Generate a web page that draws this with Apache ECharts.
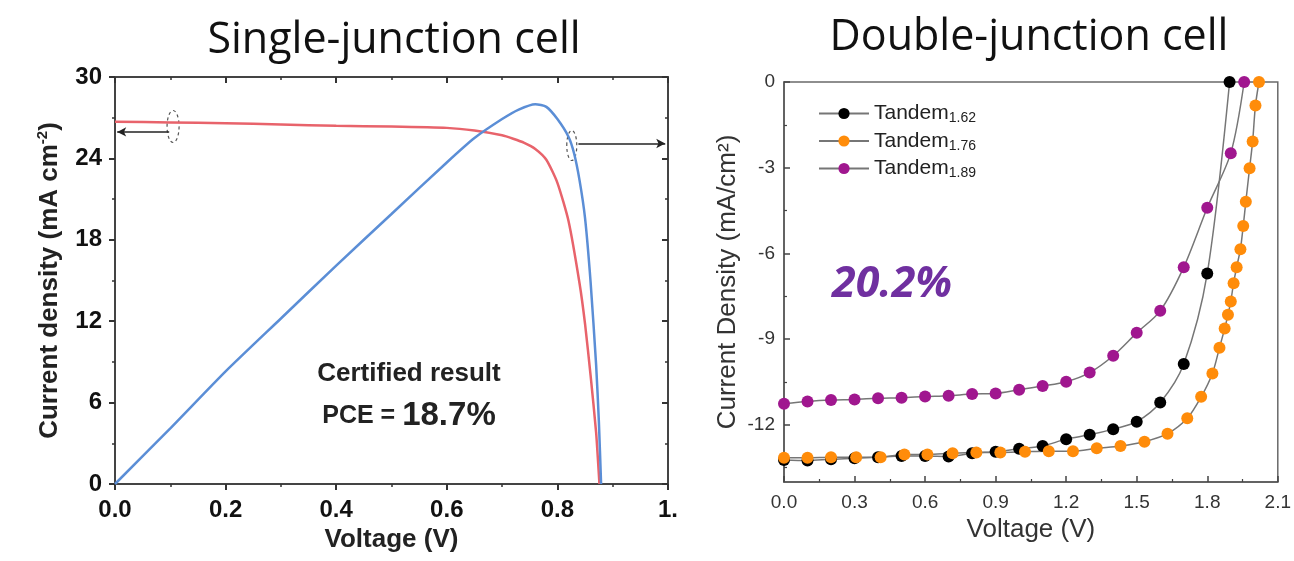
<!DOCTYPE html>
<html>
<head>
<meta charset="utf-8">
<script src="https://cdn.jsdelivr.net/npm/echarts@6/dist/echarts.min.js"></script>
<style>
  html, body { margin: 0; padding: 0; background: #fff; }
  #main { width: 1294px; height: 561px; }
</style>
</head>
<body>
<div id="main"></div>
<script>
// ---- single-junction cell (left) ----
var jvVoltage = [0, 0.1, 0.2, 0.3, 0.4, 0.5, 0.6, 0.65, 0.7, 0.72, 0.74, 0.76, 0.78, 0.8, 0.82, 0.84, 0.85, 0.86, 0.87, 0.876];
var jvCurrent = [26.7, 26.65, 26.6, 26.5, 26.4, 26.35, 26.25, 26.05, 25.7, 25.45, 25.15, 24.7, 23.9, 22.2, 19.4, 14.8, 11.8, 8.0, 3.8, 0];
var pvVoltage = [0, 0.1, 0.2, 0.3, 0.4, 0.5, 0.6, 0.65, 0.7, 0.73, 0.76, 0.78, 0.8, 0.82, 0.83, 0.84, 0.85, 0.86, 0.87, 0.875, 0.879];
var pvPower = [0, 4.1, 8.3, 12.2, 16.1, 19.9, 23.7, 25.5, 26.9, 27.6, 28.0, 27.8, 26.9, 25.6, 24.4, 22.4, 19.6, 14.9, 8.8, 4.6, 0];

// ---- double-junction cell (right) ----
var t162V = [0, 0.1, 0.2, 0.3, 0.4, 0.5, 0.6, 0.7, 0.8, 0.9, 1.0, 1.1, 1.2, 1.3, 1.4, 1.5, 1.6, 1.7, 1.8, 1.895];
var t162J = [-13.23, -13.25, -13.2, -13.17, -13.13, -13.09, -13.09, -13.11, -12.99, -12.94, -12.84, -12.74, -12.5, -12.35, -12.15, -11.89, -11.22, -9.87, -6.7, 0];
var t176V = [0, 0.1, 0.2, 0.307, 0.411, 0.512, 0.61, 0.717, 0.818, 0.92, 1.025, 1.126, 1.229, 1.33, 1.431, 1.533, 1.631, 1.715, 1.774, 1.822, 1.852, 1.874, 1.888, 1.9, 1.912, 1.925, 1.941, 1.953, 1.964, 1.98, 1.993, 2.005, 2.02];
var t176J = [-13.15, -13.15, -13.13, -13.13, -13.13, -13.04, -13.04, -12.99, -12.97, -12.97, -12.94, -12.92, -12.92, -12.82, -12.74, -12.59, -12.31, -11.77, -11.02, -10.2, -9.3, -8.63, -8.15, -7.68, -7.04, -6.48, -5.85, -5.04, -4.19, -3.02, -2.08, -0.82, 0];
var t189V = [0, 0.1, 0.2, 0.3, 0.4, 0.5, 0.6, 0.7, 0.8, 0.9, 1.0, 1.1, 1.2, 1.3, 1.4, 1.5, 1.6, 1.7, 1.8, 1.9, 1.957];
var t189J = [-11.26, -11.18, -11.13, -11.11, -11.07, -11.05, -11.01, -10.98, -10.92, -10.9, -10.77, -10.64, -10.49, -10.17, -9.58, -8.78, -8.01, -6.48, -4.4, -2.49, 0];

var yTicksRight = [-12, -9, -6, -3, 0];
var yMinorRight = [-13.5, -10.5, -7.5, -4.5, -1.5];

function zip(xs, ys) {
  var out = [];
  for (var i = 0; i < xs.length; i++) out.push([xs[i], ys[i]]);
  return out;
}

var ARIAL = '"Liberation Sans", Arial, sans-serif';
var OPEN = '"Open Sans", sans-serif';
var chart = echarts.init(document.getElementById('main'));

var leftTick = { show: true, inside: false, length: 6, lineStyle: { color: '#333', width: 2 } };
var leftTickIn = { show: true, inside: true, length: 6, lineStyle: { color: '#333', width: 2 } };
var leftMinor = { show: true, splitNumber: 2, length: 3, lineStyle: { color: '#333', width: 1.5 } };
var leftLine = { show: true, onZero: false, lineStyle: { color: '#444', width: 2 } };
var rightLine = { show: true, onZero: false, lineStyle: { color: '#555', width: 1.5 } };

function tandemSeries(name, xs, ys, color) {
  return {
    name: name,
    type: 'line',
    xAxisIndex: 2,
    yAxisIndex: 2,
    data: zip(xs, ys),
    smooth: 0.3,
    symbol: 'circle',
    symbolSize: 12,
    itemStyle: { color: color },
    lineStyle: { color: '#767676', width: 1.5 },
    z: 3
  };
}

var option = {
  backgroundColor: '#fff',
  animation: false,
  grid: [
    { left: 115, right: 626, top: 77, bottom: 77 },
    { left: 784, right: 14, top: 82, bottom: 79, show: true, borderColor: '#6a6a6a', borderWidth: 1.5 }
  ],
  legend: {
    data: ['Tandem1.62', 'Tandem1.76', 'Tandem1.89'],
    orient: 'vertical',
    left: 818,
    top: 103,
    padding: 0,
    itemWidth: 50,
    itemHeight: 14,
    itemGap: 5,
    formatter: function (name) { return 'Tandem{s|' + name.replace('Tandem', '') + '}'; },
    textStyle: {
      fontSize: 21, fontFamily: ARIAL, color: '#222',
      rich: { s: { fontSize: 14, fontFamily: ARIAL, color: '#222', padding: [10, 0, 0, 0] } }
    }
  },
  xAxis: [
    {
      gridIndex: 0, type: 'value', position: 'bottom', min: 0, max: 1, interval: 0.2,
      name: 'Voltage (V)', nameLocation: 'middle', nameGap: 40,
      nameTextStyle: { fontSize: 26, fontWeight: 'bold', fontFamily: ARIAL, color: '#222' },
      axisLine: leftLine, axisTick: leftTick, minorTick: leftMinor, splitLine: { show: false },
      axisLabel: {
        fontSize: 24, fontWeight: 'bold', fontFamily: ARIAL, color: '#111', margin: 14,
        formatter: function (v) { return v === 1 ? '1.' : v.toFixed(1); }
      }
    },
    {
      gridIndex: 0, type: 'value', position: 'top', min: 0, max: 1, interval: 0.2,
      axisLine: leftLine, axisTick: leftTickIn,
      minorTick: leftMinor, axisLabel: { show: false }, splitLine: { show: false }
    },
    {
      gridIndex: 1, type: 'value', position: 'bottom', min: 0, max: 2.1, interval: 0.3,
      name: 'Voltage (V)', nameLocation: 'middle', nameGap: 31,
      nameTextStyle: { fontSize: 26, fontFamily: ARIAL, color: '#333' },
      axisLine: rightLine,
      axisTick: { show: true, inside: true, length: 6, lineStyle: { color: '#444', width: 1.5 } },
      minorTick: { show: true, splitNumber: 2, length: 3, lineStyle: { color: '#444', width: 1.2 } },
      splitLine: { show: false },
      axisLabel: { fontSize: 19, fontFamily: ARIAL, color: '#333', margin: 11, formatter: function (v) { return v.toFixed(1); } }
    }
  ],
  yAxis: [
    {
      gridIndex: 0, type: 'value', position: 'left', min: 0, max: 30, interval: 6,
      name: 'Current density (mA cm{sup|-2})', nameLocation: 'middle', nameGap: 51,
      nameTextStyle: {
        fontSize: 26, fontWeight: 'bold', fontFamily: ARIAL, color: '#222',
        rich: { sup: { fontSize: 15, fontWeight: 'bold', fontFamily: ARIAL, color: '#222', padding: [0, 0, 14, 0] } }
      },
      axisLine: leftLine, axisTick: leftTick, minorTick: leftMinor, splitLine: { show: false },
      axisLabel: { fontSize: 24, fontWeight: 'bold', fontFamily: ARIAL, color: '#111', margin: 13 }
    },
    {
      gridIndex: 0, type: 'value', position: 'right', min: 0, max: 30, interval: 6,
      axisLine: leftLine, axisTick: leftTickIn,
      minorTick: leftMinor, axisLabel: { show: false }, splitLine: { show: false }
    },
    {
      gridIndex: 1, type: 'value', position: 'left', min: -14, max: 0,
      name: 'Current Density (mA/cm²)', nameLocation: 'middle', nameGap: 43,
      nameTextStyle: { fontSize: 26, fontFamily: ARIAL, color: '#333' },
      axisLine: rightLine,
      axisTick: { show: true, inside: true, length: 6, customValues: yTicksRight, lineStyle: { color: '#444', width: 1.5 } },
      axisLabel: { fontSize: 19, fontFamily: ARIAL, color: '#333', margin: 9, customValues: yTicksRight },
      splitLine: { show: false }
    },
    {
      gridIndex: 1, type: 'value', position: 'left', min: -14, max: 0,
      axisLine: { show: false, onZero: false },
      axisTick: { show: true, inside: true, length: 3, customValues: yMinorRight, lineStyle: { color: '#444', width: 1.2 } },
      axisLabel: { show: false }, splitLine: { show: false }
    }
  ],
  series: [
    {
      name: 'J-V', type: 'line', xAxisIndex: 0, yAxisIndex: 0,
      data: zip(jvVoltage, jvCurrent), showSymbol: false, smooth: 0.2,
      lineStyle: { color: '#E8636B', width: 2.5 },
      markLine: {
        silent: true, symbol: ['none', 'arrow'], symbolSize: [7, 9],
        label: { show: false },
        lineStyle: { color: '#222', type: 'solid', width: 1.5 },
        data: [
          [{ coord: [0.098, 25.95] }, { coord: [0.004, 25.95] }],
          [{ coord: [0.838, 25.1] }, { coord: [0.995, 25.1] }]
        ]
      }
    },
    {
      name: 'P-V', type: 'line', xAxisIndex: 0, yAxisIndex: 0,
      data: zip(pvVoltage, pvPower), showSymbol: false, smooth: 0.2,
      lineStyle: { color: '#5B8ED6', width: 2.5 }
    },
    tandemSeries('Tandem1.62', t162V, t162J, '#000000'),
    tandemSeries('Tandem1.76', t176V, t176J, '#FF8C0A'),
    tandemSeries('Tandem1.89', t189V, t189J, '#A0178F')
  ]
};

chart.setOption(option);

// annotations tied to the data coordinates
var e1 = chart.convertToPixel({ xAxisIndex: 0, yAxisIndex: 0 }, [0.105, 26.35]);
var e2 = chart.convertToPixel({ xAxisIndex: 0, yAxisIndex: 0 }, [0.826, 24.95]);
var ellipseStyle = { fill: 'none', stroke: '#555', lineWidth: 1.2, lineDash: [3, 3] };

chart.setOption({
  graphic: [
    { type: 'text', x: 394, y: 41, style: { text: 'Single-junction cell', fontSize: 43, fontFamily: OPEN, fill: '#111', align: 'center', verticalAlign: 'middle' } },
    { type: 'text', x: 1029, y: 38, style: { text: 'Double-junction cell', fontSize: 43, fontFamily: OPEN, fill: '#111', align: 'center', verticalAlign: 'middle' } },
    { type: 'ellipse', shape: { cx: e1[0], cy: e1[1], rx: 6, ry: 16 }, style: ellipseStyle },
    { type: 'ellipse', shape: { cx: e2[0], cy: e2[1], rx: 5, ry: 15 }, style: ellipseStyle },
    { type: 'text', x: 409, y: 374, style: { text: 'Certified result', fontSize: 26, fontWeight: 'bold', fontFamily: ARIAL, fill: '#222', align: 'center', verticalAlign: 'middle' } },
    { type: 'text', x: 409, y: 416, style: {
        text: '{a|PCE = }{b|18.7%}', align: 'center', verticalAlign: 'middle',
        rich: {
          a: { fontSize: 25, fontWeight: 'bold', fontFamily: ARIAL, fill: '#222' },
          b: { fontSize: 33, fontWeight: 'bold', fontFamily: ARIAL, fill: '#222' }
        }
      } },
    { type: 'text', x: 832, y: 285, style: { text: '20.2%', fontSize: 43, fontWeight: 'bold', fontStyle: 'italic', fontFamily: OPEN, fill: '#7030A0', align: 'left', verticalAlign: 'middle' } }
  ]
});
</script>
</body>
</html>
